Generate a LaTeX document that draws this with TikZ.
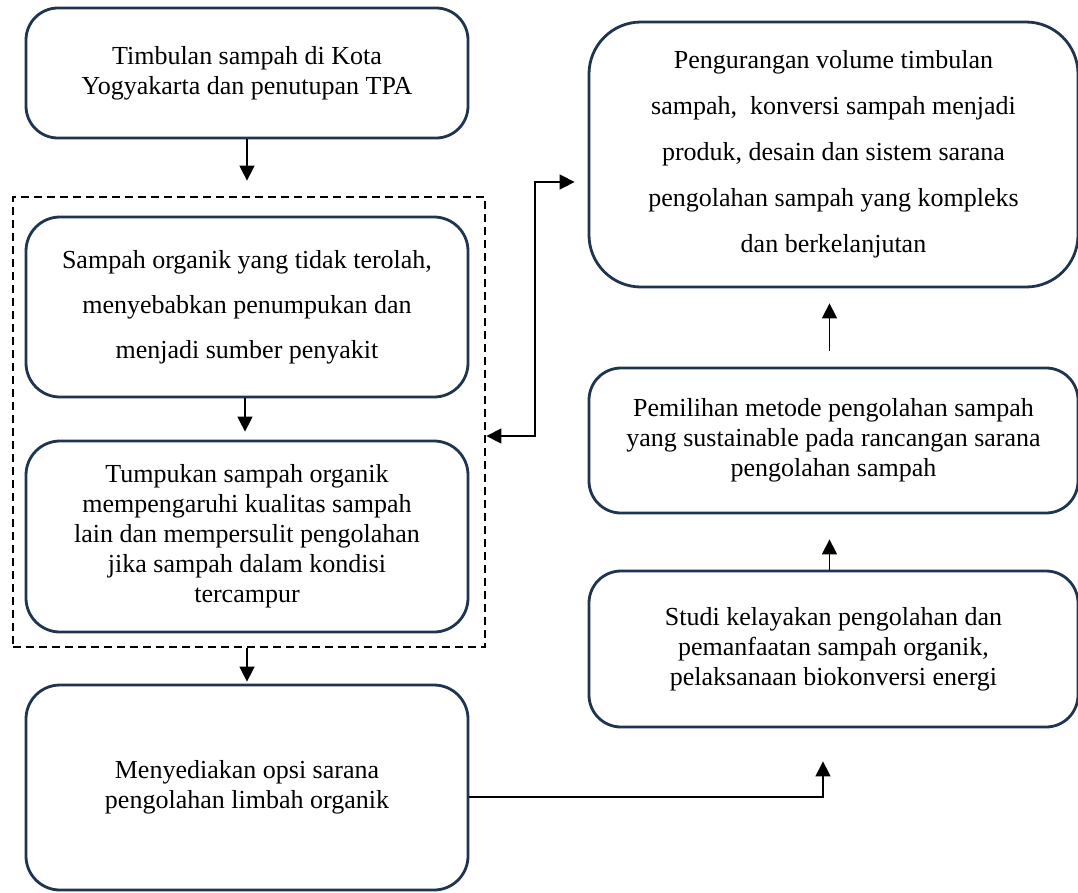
\documentclass[tikz,border=0pt]{standalone}
\usepackage{fontspec}
\setmainfont{Liberation Serif}
\usetikzlibrary{arrows.meta,calc}
\definecolor{boxc}{HTML}{1E3450}
\begin{document}
\begin{tikzpicture}[x=1pt,y=-1pt,
  box/.style={draw=boxc, line width=2.8pt, rectangle, rounded corners=#1, inner sep=0pt, align=center,
    font=\fontsize{26}{30}\selectfont},
  box/.default=32pt,
  arr/.style={draw=black, line width=1.5pt, -{Triangle[width=15pt,length=15pt]}},
  biarr/.style={draw=black, line width=1.5pt, {Triangle[width=15pt,length=15pt]}-{Triangle[width=15pt,length=15pt]}},
  grpbox/.style={draw=black, line width=2.8pt, dash pattern=on 8pt off 5pt, rectangle, inner sep=0pt}
]
\useasboundingbox (0,0) rectangle (1078,892);
\begin{scope}
\clip (0,0) rectangle (1078,892);

\node[box=32pt, minimum width=442pt, minimum height=130pt] (b1) at (247,73)
  {Timbulan sampah di Kota\\Yogyakarta dan penutupan TPA};

\node[grpbox, minimum width=472pt, minimum height=450pt] (grp) at (249,422) {};

\node[box=34pt, minimum width=442pt, minimum height=180pt, font=\fontsize{26}{45}\selectfont] (b2) at (247,307)
  {Sampah organik yang tidak terolah,\\menyebabkan penumpukan dan\\menjadi sumber penyakit};

\node[box=34pt, minimum width=442pt, minimum height=191pt] (b3) at (247,536.5)
  {Tumpukan sampah organik\\mempengaruhi kualitas sampah\\lain dan mempersulit pengolahan\\jika sampah dalam kondisi\\tercampur};

\node[box=34pt, minimum width=442pt, minimum height=205pt] (b4) at (247,787.5)
  {Menyediakan opsi sarana\\pengolahan limbah organik};

\node[box=52pt, minimum width=489pt, minimum height=265pt, font=\fontsize{26}{46}\selectfont] (r1) at (833.5,154.5)
  {Pengurangan volume timbulan\\sampah,\ \ konversi sampah menjadi\\produk, desain dan sistem sarana\\pengolahan sampah yang kompleks\\dan berkelanjutan};

\node[box=32pt, minimum width=489pt, minimum height=145pt] (r2) at (833.5,440.5)
  {Pemilihan metode pengolahan sampah\\yang sustainable pada rancangan sarana\\pengolahan sampah};

\node[box=32pt, minimum width=489pt, minimum height=156pt] (r3) at (833.5,649)
  {Studi kelayakan pengolahan dan\\pemanfaatan sampah organik,\\pelaksanaan biokonversi energi};

\end{scope}

% connectors
\draw[arr, shorten >=15pt] (b1.south) -- (b1.south |- grp.north);
\draw[arr, shorten >=8pt] ([xshift=-2pt]b2.south) -- ([xshift=-2pt]b3.north);
\draw[arr, shorten >=2pt] (b4.north |- grp.south) -- (b4.north);

\coordinate (j1) at (535,436);
\coordinate (j2) at (535,182);
\draw[biarr, shorten >=13pt] (grp.east |- j1) -- (j1) -- (j2) -- (j2 -| r1.west);

\coordinate (c4) at (823,797);
\draw[arr, shorten >=33pt] (b4.east |- c4) -- (c4) -- (c4 |- r3.south);

\draw[arr, shorten >=25pt] ([xshift=-4pt]r3.north) -- ([xshift=-4pt]r3.north |- r2.south);
\draw[arr, shorten <=16pt, shorten >=15pt] ([xshift=-4pt]r2.north) -- ([xshift=-4pt]r2.north |- r1.south);

\end{tikzpicture}
\end{document}
